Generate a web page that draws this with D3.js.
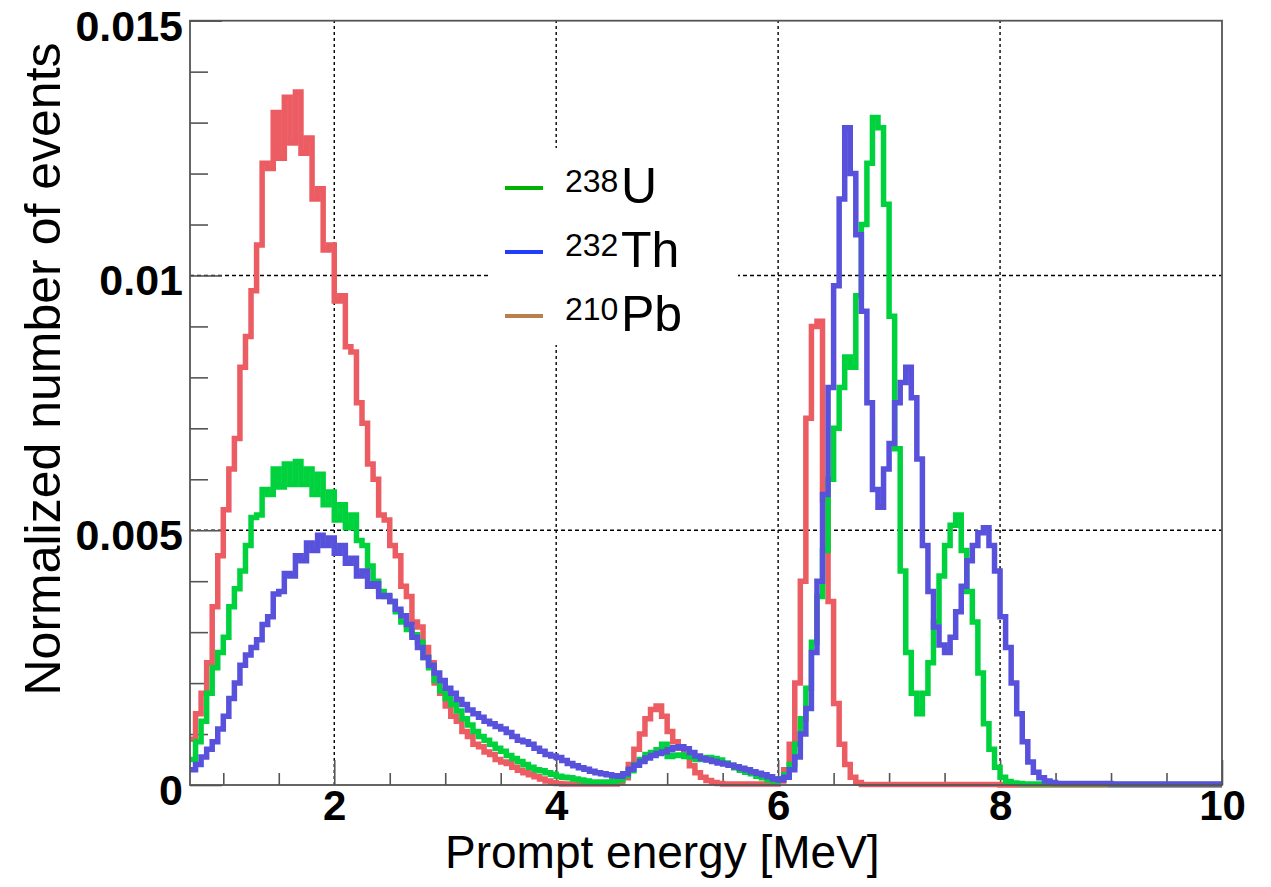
<!DOCTYPE html>
<html>
<head>
<meta charset="utf-8">
<script src="https://cdn.jsdelivr.net/npm/d3@7"></script>
<style>
  body { margin: 0; background: #fff; }
  svg { display: block; }
  text { font-family: "Liberation Sans", Arial, Helvetica, sans-serif; }
</style>
</head>
<body>
<svg id="chart" width="1271" height="887"></svg>
<script>
// Histogram binning: 0.05 MeV bins starting at 0.7 MeV
const binStart = 0.7;
const binWidth = 0.05;
// Bin contents are listed in units of 1e-4 (normalized counts)
const valueUnit = 1e-4;

// 210Pb prompt energy spectrum
const pb210 = [
  9, 14, 18, 24, 35, 45, 54, 62, 68, 82,
  88, 97, 106, 122, 121, 132, 123, 135, 126, 136,
  124, 127, 115, 117, 105, 106, 95, 96, 86, 85,
  75, 71, 63, 60, 53, 52, 47, 45, 39, 37,
  32, 31, 27, 24, 20, 18, 15.5, 13.5, 12.5, 10.5,
  9.5, 8, 7.5, 6.5, 6, 5, 4.5, 4.2, 3.5, 2.9,
  2.4, 2, 1.6, 1.2, 0.8, 0.5, 0.3, 0.2, 0.2, 0.2,
  0.2, 0.2, 0.2, 0.2, 0.2, 0.2, 0.2, 0.5, 1.4, 4,
  7, 10, 13, 14.8, 15.5, 13.5, 10.5, 8.5, 7.2, 6,
  3.8, 2.4, 1.5, 0.9, 0.5, 0.3, 0.2, 0.2, 0.2, 0.2,
  0.2, 0.2, 0.2, 0.2, 0.2, 0.2, 0.8, 3, 8, 20,
  40, 72, 90, 91, 56, 36, 16, 8, 4, 1.5,
  0.5, 0.1, 0.1, 0.1, 0.1, 0.1, 0.1, 0.1, 0.1, 0.1,
  0.1, 0.1, 0.1, 0.1, 0.1, 0.1, 0.1, 0.1, 0.1, 0.1,
  0.1, 0.1, 0.1, 0.1, 0.1, 0.1, 0, 0, 0, 0,
  0, 0, 0, 0, 0, 0, 0, 0, 0, 0,
  0, 0, 0, 0, 0, 0, 0, 0, 0, 0,
  0, 0, 0, 0, 0, 0, 0, 0, 0, 0,
  0, 0, 0, 0, 0, 0
];

// 238U prompt energy spectrum
const u238 = [
  5, 8.5, 12.5, 18, 23, 26, 29, 35, 38.5, 42,
  47, 52.5, 53, 58, 57, 62, 58.5, 63, 59, 63.5,
  59, 62, 57, 61, 55, 57.5, 52, 55, 50.5, 53,
  48, 47, 43, 40, 38, 37, 36, 34, 32, 30.5,
  29.5, 28, 25, 23, 20.5, 18.5, 17, 15.8, 14.5, 13,
  11.8, 10.5, 9.5, 8.8, 8, 7.2, 6.6, 5.8, 5.2, 4.6,
  4, 3.5, 3, 2.8, 2.4, 2.1, 1.7, 1.5, 1.4, 1.2,
  1, 0.8, 0.6, 0.6, 0.6, 0.6, 0.8, 1, 1.8, 2.8,
  4, 5, 6, 6.4, 6.9, 8, 5.6, 5.8, 5.9, 5.6,
  5.5, 5, 5, 5.4, 5.2, 4.9, 4.3, 3.9, 3.4, 2.9,
  2.5, 2.2, 1.7, 1.4, 1, 0.8, 1.2, 2, 4, 8,
  13, 19, 28, 37, 46, 60, 70, 78, 84, 82,
  96, 110, 122, 131, 129, 114, 92, 66, 42, 26,
  18, 14, 18, 24, 32, 41, 47, 51, 53, 46,
  38, 32, 22, 12, 7, 3.5, 1.5, 0.7, 0.4, 0.3,
  0.2, 0.2, 0.2, 0.2, 0.2, 0.2, 0.2, 0.2, 0.2, 0.2,
  0.2, 0.2, 0.2, 0.2, 0.2, 0.2, 0.1, 0.1, 0.1, 0.1,
  0.1, 0.1, 0.1, 0.1, 0.1, 0.1, 0.1, 0.1, 0.1, 0.1,
  0.1, 0.1, 0.1, 0.1, 0.1, 0.1
];

// 232Th prompt energy spectrum
const th232 = [
  3, 4, 5.5, 7, 8.5, 11, 13.5, 17, 20, 23.5,
  25.5, 27, 28.5, 31.5, 33, 37.5, 38, 41.5, 41, 45,
  44, 47.5, 46, 49, 47, 48.5, 45.5, 47, 43.5, 44.5,
  41, 42, 39, 39.5, 37, 37.2, 36, 34.5, 33.2, 31.5,
  29, 27, 25, 23.5, 22, 20.5, 19, 18, 16.8, 15.8,
  14.7, 14, 13.3, 12.5, 12, 11.5, 11, 10.3, 9.5, 8.8,
  8.5, 8, 7.2, 6.6, 6, 5.7, 5.4, 4.8, 4.2, 3.8,
  3.4, 3.1, 2.7, 2.4, 2.2, 2, 1.8, 1.7, 2.2, 3.1,
  3.9, 4.6, 5.3, 5.8, 6.2, 6.5, 6.9, 7.3, 7.5, 7.1,
  6.4, 5.7, 5.2, 4.9, 4.6, 4.3, 4.1, 3.9, 3.6, 3.3,
  3, 2.6, 2.3, 2, 1.6, 1.2, 1, 1.5, 3, 5.5,
  10, 15, 26, 40, 57, 78, 98, 115, 129, 120,
  108, 93, 75, 58, 54.5, 62, 67, 75, 79, 82,
  76, 64, 47, 38, 31, 27.5, 26, 29, 34, 39,
  44, 47, 49.5, 50.5, 47, 42, 33, 27, 20, 14,
  8.5, 4.5, 2.5, 1.4, 0.8, 0.5, 0.3, 0.3, 0.3, 0.3,
  0.3, 0.3, 0.3, 0.3, 0.3, 0.3, 0.2, 0.2, 0.2, 0.2,
  0.2, 0.2, 0.2, 0.2, 0.2, 0.2, 0.2, 0.2, 0.2, 0.2,
  0.2, 0.2, 0.2, 0.2, 0.2, 0.2
];

const xMajorTicks = [2, 4, 6, 8, 10];
const yMajorTicks = [0, 0.005, 0.01, 0.015];
const yTickLabels = ["0", "0.005", "0.01", "0.015"];
const xGridValues = [2, 4, 6, 8];
const yGridValues = [0.005, 0.01];

const seriesOrder = ["210Pb", "238U", "232Th"];
const seriesValues = { "210Pb": pb210, "238U": u238, "232Th": th232 };
const seriesColors = { "210Pb": "#eb5c63", "238U": "#00d23e", "232Th": "#5751dc" };

const legendMass = ["238", "232", "210"];
const legendElement = ["U", "Th", "Pb"];
const legendColors = ["#00b300", "#1f3cff", "#b9804c"];

const svg = d3.select("#chart");
const plot = { left: 190, right: 1222, top: 20.7, bottom: 785 };

const x = d3.scaleLinear().domain([0.7, 10]).range([plot.left, plot.right]);
const y = d3.scaleLinear().domain([0, 0.015]).range([plot.bottom, plot.top]);

const axisColor = "#555";
const labelFont = "'Liberation Sans', Arial, Helvetica, sans-serif";

// dashed grid
const grid = svg.append("g").attr("stroke", "#000").attr("stroke-width", 1.4).attr("fill", "none");
grid.selectAll("line.vx").data(xGridValues).join("line")
  .attr("x1", d => x(d)).attr("x2", d => x(d))
  .attr("y1", plot.bottom).attr("y2", plot.top)
  .attr("stroke-dasharray", "3,3");
grid.selectAll("line.hy").data(yGridValues).join("line")
  .attr("x1", plot.left).attr("x2", plot.right)
  .attr("y1", d => y(d)).attr("y2", d => y(d))
  .attr("stroke-dasharray", "4,3");

// legend background hides the grid behind it
svg.append("rect")
  .attr("x", 488).attr("y", 148).attr("width", 250).attr("height", 197)
  .attr("fill", "#fff");

// axes: major and minor ticks drawn inward
const minorX = d3.range(1, 10.001, 0.5).filter(v => !xMajorTicks.includes(v));
const minorY = d3.range(0, 0.0150001, 0.001).filter(v => !yMajorTicks.some(t => Math.abs(t - v) < 1e-9));

const xAxisMinor = svg.append("g").attr("transform", `translate(0,${plot.bottom})`)
  .call(d3.axisBottom(x).tickValues(minorX).tickSize(-12).tickFormat(""));
const xAxisMajor = svg.append("g").attr("transform", `translate(0,${plot.bottom})`)
  .call(d3.axisBottom(x).tickValues(xMajorTicks).tickSize(-25).tickPadding(5).tickFormat(d3.format("d")));
const yAxisMinor = svg.append("g").attr("transform", `translate(${plot.left},0)`)
  .call(d3.axisLeft(y).tickValues(minorY).tickSize(-18).tickFormat(""));
const yAxisMajor = svg.append("g").attr("transform", `translate(${plot.left},0)`)
  .call(d3.axisLeft(y).tickValues(yMajorTicks).tickSize(-32).tickPadding(7)
    .tickFormat((d, i) => yTickLabels[i]));

[xAxisMinor, xAxisMajor, yAxisMinor, yAxisMajor].forEach(g => {
  g.select(".domain").remove();
  g.selectAll(".tick line").attr("stroke", axisColor).attr("stroke-width", 1.6);
  g.selectAll(".tick text")
    .attr("fill", "#000")
    .attr("font-family", labelFont)
    .attr("font-weight", "bold")
    .attr("font-size", 43);
});
yAxisMajor.selectAll(".tick text").attr("dy", "0.45em");
xAxisMajor.selectAll(".tick text").attr("font-size", 42);

// histograms as step lines
const stepLine = d3.line()
  .x(d => x(d[0]))
  .y(d => y(d[1]))
  .curve(d3.curveStepAfter);

seriesOrder.forEach(name => {
  const vals = seriesValues[name];
  const pts = vals.map((v, i) => [binStart + i * binWidth, v * valueUnit]);
  pts.push([binStart + vals.length * binWidth, vals[vals.length - 1] * valueUnit]);
  svg.append("path")
    .datum(pts)
    .attr("d", stepLine)
    .attr("fill", "none")
    .attr("stroke", seriesColors[name])
    .attr("stroke-width", 5.5)
    .attr("stroke-linejoin", "miter");
});

// frame
svg.append("rect")
  .attr("x", plot.left).attr("y", plot.top)
  .attr("width", plot.right - plot.left).attr("height", plot.bottom - plot.top)
  .attr("fill", "none").attr("stroke", axisColor).attr("stroke-width", 1.8);

// legend
const legend = svg.append("g");
legendMass.forEach((m, i) => {
  const base = 203 + i * 64;
  legend.append("line")
    .attr("x1", 505).attr("x2", 543)
    .attr("y1", base - 15).attr("y2", base - 15)
    .attr("stroke", legendColors[i]).attr("stroke-width", 4);
  legend.append("text")
    .attr("x", 565).attr("y", base - 11)
    .attr("font-size", 32).attr("fill", "#000")
    .text(m);
  legend.append("text")
    .attr("x", 621).attr("y", base)
    .attr("font-size", 50).attr("fill", "#000")
    .text(legendElement[i]);
});

// axis titles
svg.append("text")
  .attr("x", 445).attr("y", 868)
  .attr("font-size", 46).attr("fill", "#000")
  .text("Prompt energy [MeV]");

svg.append("text")
  .attr("transform", "translate(60,369) rotate(-90)")
  .attr("text-anchor", "middle")
  .attr("font-size", 50).attr("fill", "#000")
  .text("Normalized number of events");
</script>
</body>
</html>
